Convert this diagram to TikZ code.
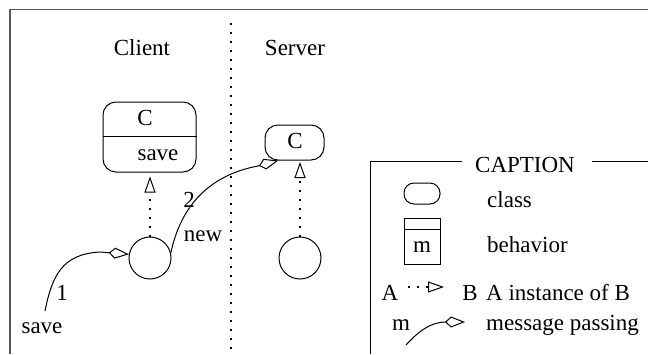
\documentclass[tikz,border=0pt]{standalone}
\usepackage{fontspec}
\setmainfont{Liberation Serif}
\newfontfamily\tms{Liberation Serif}
\usetikzlibrary{arrows.meta}
\begin{document}
\begin{tikzpicture}[x=1pt,y=-1pt,
  txt/.style={anchor=base, inner sep=0pt, font=\tms\fontsize{23}{27}\selectfont},
  ltxt/.style={txt, anchor=base west},
  ln/.style={line width=1pt},
  dots/.style={line width=1.1pt, dash pattern=on 1.6pt off 7.4pt},
  msg/.style={ln, -{Kite[open, length=20pt, width=11pt, inset=6pt, line width=1pt]}},
  inst/.style={dots, -{Triangle[open, length=16pt, width=11pt, line width=1pt]}},
  cls/.style={draw, ln, rounded corners=13pt, inner sep=0pt},
  obj/.style={draw, ln, circle, minimum size=42pt, inner sep=0pt},
]
\useasboundingbox (0,0) rectangle (648,354);
% outer frame
\draw[line width=1.8pt, black!65] (10,354) -- (10,9.5) -- (648,9.5);
% divider
\draw[dots] (231,23) -- (231,354);
% headings
\node[txt] (client) at (142,55) {Client};
\node[txt] (server) at (295,55) {Server};
% client class
\node[cls, minimum width=93pt, minimum height=70pt] (cbox) at (149.5,137) {};
\draw[ln] (cbox.west |- 0,136) -- (cbox.east |- 0,136);
\node[txt] (cname) at (145,125) {C};
\node[txt] (csave) at (158,160) {save};
% server class
\node[cls, minimum width=59pt, minimum height=35pt] (sbox) at (294.5,142.5) {};
\node[txt] (sname) at (295,148) {C};
% objects
\node[obj] (c1) at (150,258) {};
\node[obj] (s1) at (300,258) {};
% instance arrows
\draw[inst, shorten >=4pt] (c1.north) -- (c1.north |- cbox.south);
\draw[inst, shorten >=1.5pt] (s1.north) -- (s1.north |- sbox.south);
% messages
\coordinate (m1start) at (45,311);
\draw[msg] (m1start) .. controls (52,276) and (62,254) .. (100,252) -- (c1.170);
\node[txt] (one) at (62,300) {1};
\node[txt] (savemsg) at (42,333) {save};
\draw[msg] (c1.14) .. controls (181,205) and (210,175) .. (258,166) -- (sbox.228);
\node[txt] (two) at (189,207) {2};
\node[txt] (new) at (203,241) {new};
% caption frame
\draw[ln] (370,354) -- (370,161) -- (462,161);
\draw[ln] (592,161) -- (648,161);
\node[txt] (cap) at (525,172) {CAPTION};
% legend: class
\node[cls, rounded corners=10pt, minimum width=36pt, minimum height=21pt] (lcls) at (422,193.5) {};
\node[ltxt] (lclass) at (487,207) {class};
% legend: behavior
\node[draw, ln, inner sep=0pt, minimum width=36pt, minimum height=46pt] (lbeh) at (422,241) {};
\draw[ln] (lbeh.west |- 0,229) -- (lbeh.east |- 0,229);
\node[txt] (lm) at (422,252) {m};
\node[ltxt] (lbehavior) at (487,252) {behavior};
% legend: instance
\node[txt] (la) at (390,300) {A};
\coordinate (li1) at (408,287);
\coordinate (li2) at (444,287);
\draw[inst, line width=1.1pt] (li1) -- (li2);
\node[txt] (lb) at (470,300) {B};
\node[ltxt] (linst) at (486,300) {A instance of B};
% legend: message
\node[txt] (lmm) at (401,330) {m};
\coordinate (lm1) at (406,345);
\coordinate (lm2) at (465,322);
\draw[msg] (lm1) .. controls (418,332) and (430,322) .. (446,322) -- (lm2);
\node[ltxt] (lmsg) at (486,330) {message passing};
\end{tikzpicture}
\end{document}
